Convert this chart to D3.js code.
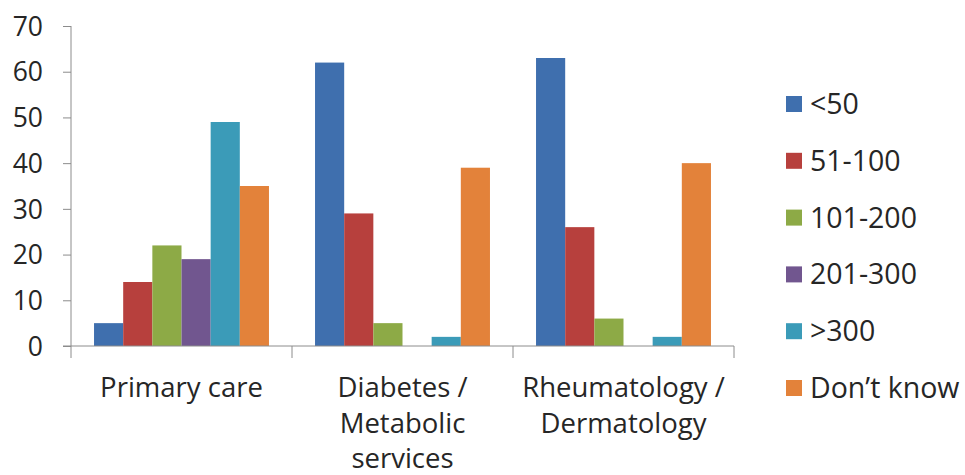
<!DOCTYPE html>
<html>
<head>
<meta charset="utf-8">
<script src="https://cdn.jsdelivr.net/npm/d3@7"></script>
<style>
  html, body { margin: 0; padding: 0; background: #fff; }
  svg { display: block; }
  text { font-family: "Open Sans", sans-serif; fill: #262626; }
</style>
</head>
<body>
<svg id="chart" width="965" height="475"></svg>
<script>
// ---- data ----
const categories = ["Primary care", "Diabetes / Metabolic services", "Rheumatology / Dermatology"];
const categoryLines = [["Primary care"], ["Diabetes /", "Metabolic", "services"], ["Rheumatology /", "Dermatology"]];
const seriesNames = ["<50", "51-100", "101-200", "201-300", ">300", "Don\u2019t know"];
const seriesColors = ["#3F6FAE", "#B7403D", "#8DAA46", "#71568F", "#3B9BB8", "#E3823A"];
const valuesLt50 = [5, 62, 63];
const values51to100 = [14, 29, 26];
const values101to200 = [22, 5, 6];
const values201to300 = [19, 0, 0];
const valuesGt300 = [49, 2, 2];
const valuesDontKnow = [35, 39, 40];
const yTicks = [0, 10, 20, 30, 40, 50, 60, 70];

const seriesValues = [valuesLt50, values51to100, values101to200, values201to300, valuesGt300, valuesDontKnow];

// ---- layout ----
const svg = d3.select("#chart");
const plotLeft = 71, plotRight = 734, plotTop = 26, plotBottom = 346;
const axisColor = "#8C8C8C";

const y = d3.scaleLinear().domain([0, 70]).range([plotBottom, plotTop]);
const x = d3.scaleBand().domain(categories).range([plotLeft, plotRight]).padding(0);
const x1 = d3.scaleBand().domain(seriesNames).range([0, x.bandwidth()]).paddingInner(0).paddingOuter(0.79);

// y axis
const yAxis = svg.append("g")
  .attr("transform", `translate(${plotLeft},0)`)
  .call(d3.axisLeft(y).tickValues(yTicks).tickSize(8).tickPadding(20).tickFormat(d3.format("d")));
yAxis.select(".domain").attr("stroke", axisColor).attr("d", `M0,${plotTop}V${plotBottom + 12}`);
yAxis.selectAll(".tick line").attr("stroke", axisColor);
yAxis.selectAll(".tick text").style("font-size", "26.5px").attr("fill", "#262626").attr("dy", "0.35em");

// bars
const groups = svg.append("g").selectAll("g")
  .data(categories)
  .join("g")
  .attr("transform", d => `translate(${x(d)},0)`);

groups.selectAll("rect")
  .data((c, ci) => seriesNames.map((s, si) => ({ s, si, v: seriesValues[si][ci] })))
  .join("rect")
  .attr("x", d => x1(d.s))
  .attr("width", x1.bandwidth())
  .attr("y", d => y(d.v))
  .attr("height", d => y(0) - y(d.v))
  .attr("fill", d => seriesColors[d.si]);

// x axis
const boundaries = categories.map(c => x(c)).concat([plotRight]);
const xAxis = svg.append("g");
xAxis.append("line")
  .attr("x1", plotLeft - 8).attr("x2", plotRight)
  .attr("y1", y(0)).attr("y2", y(0))
  .attr("stroke", axisColor);
xAxis.selectAll("line.tk")
  .data(boundaries.slice(1))
  .join("line")
  .attr("class", "tk")
  .attr("x1", d => d).attr("x2", d => d)
  .attr("y1", y(0)).attr("y2", y(0) + 12)
  .attr("stroke", axisColor);

// category labels
const labels = svg.append("g").selectAll("text")
  .data(categories)
  .join("text")
  .attr("text-anchor", "middle")
  .style("font-size", "27.5px")
  .attr("x", d => x(d) + x.bandwidth() / 2)
  .attr("y", 397);
labels.selectAll("tspan")
  .data((d, i) => categoryLines[i])
  .join("tspan")
  .attr("x", function () { return d3.select(this.parentNode).attr("x"); })
  .attr("dy", (d, i) => i === 0 ? 0 : 35.5)
  .text(d => d);

// legend
const legend = svg.append("g").selectAll("g")
  .data(seriesNames)
  .join("g")
  .attr("transform", (d, i) => `translate(786,${104 + i * 56.8})`);
legend.append("rect")
  .attr("x", 0).attr("y", -8)
  .attr("width", 16).attr("height", 16)
  .attr("fill", (d, i) => seriesColors[i]);
legend.append("text")
  .attr("x", 24).attr("dy", "0.35em")
  .style("font-size", "28.5px")
  .text(d => d);
</script>
</body>
</html>
